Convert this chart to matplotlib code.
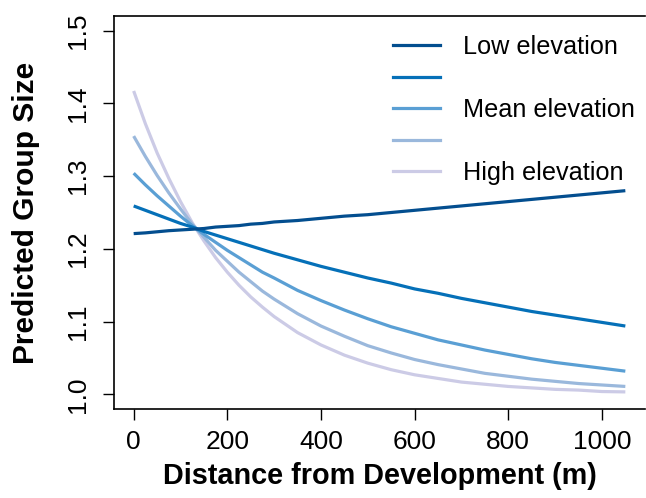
import matplotlib
matplotlib.use("Agg")
import matplotlib.pyplot as plt
from matplotlib.lines import Line2D

plt.rcParams['font.family'] = ['Liberation Sans', 'DejaVu Sans']

distance = [0, 25, 50, 75, 100, 125, 150, 175, 200, 225, 250, 275, 300,
            350, 400, 450, 500, 550, 600, 650, 700, 750, 800, 850, 900, 950, 1000, 1050]

low_elev = [1.221, 1.222, 1.2235, 1.225, 1.226, 1.227, 1.228, 1.230, 1.231, 1.232, 1.234, 1.235, 1.237,
            1.239, 1.242, 1.245, 1.247, 1.250, 1.253, 1.256, 1.259, 1.262, 1.265, 1.268, 1.271, 1.274, 1.277, 1.280]
lowmid_elev = [1.259, 1.253, 1.247, 1.241, 1.235, 1.230, 1.224, 1.219, 1.214, 1.209, 1.204, 1.199, 1.194,
               1.185, 1.176, 1.168, 1.160, 1.153, 1.145, 1.139, 1.132, 1.126, 1.120, 1.114, 1.109, 1.104, 1.099, 1.094]
mean_elev = [1.304, 1.288, 1.273, 1.259, 1.245, 1.232, 1.220, 1.209, 1.198, 1.188, 1.178, 1.168, 1.160,
             1.143, 1.129, 1.116, 1.104, 1.093, 1.084, 1.075, 1.068, 1.061, 1.055, 1.049, 1.044, 1.040, 1.036, 1.032]
highmid_elev = [1.355, 1.327, 1.301, 1.277, 1.255, 1.234, 1.216, 1.198, 1.183, 1.168, 1.155, 1.142, 1.131,
                1.111, 1.094, 1.080, 1.067, 1.057, 1.048, 1.041, 1.035, 1.029, 1.025, 1.021, 1.018, 1.015, 1.013, 1.011]
high_elev = [1.417, 1.372, 1.332, 1.297, 1.265, 1.236, 1.211, 1.188, 1.168, 1.150, 1.134, 1.120, 1.107,
             1.085, 1.068, 1.054, 1.043, 1.034, 1.027, 1.022, 1.017, 1.014, 1.011, 1.009, 1.007, 1.006, 1.004, 1.0035]

series = [low_elev, lowmid_elev, mean_elev, highmid_elev, high_elev]
legend_labels = ["Low elevation", " ", "Mean elevation", " ", "High elevation"]
colors = ['#034e8f', '#0570b8', '#5a9fd4', '#9ab8dc', '#cccbe6']

x_ticks = [0, 200, 400, 600, 800, 1000]
y_ticks = [1.0, 1.1, 1.2, 1.3, 1.4, 1.5]

W, H = 646, 498
fig = plt.figure(figsize=(W / 100, H / 100), dpi=100)
ax = fig.add_axes([114 / W, 1 - 409 / H, (645 - 114) / W, (409 - 16) / H])

# draw lightest first so the dark lines sit on top
for vals, col in reversed(list(zip(series, colors))):
    ax.plot(distance, vals, color=col, lw=2.3, solid_capstyle='butt')

ax.set_xlim(-42, 1092)
ax.set_ylim(0.98, 1.52)
ax.set_xticks(x_ticks)
ax.set_xticklabels([str(v) for v in x_ticks])
ax.set_yticks(y_ticks)
ax.set_yticklabels([f"{v:.1f}" for v in y_ticks], rotation=90, va='center')

ax.tick_params(axis='both', direction='out', length=8, width=1.0, labelsize=19, colors='black')
ax.tick_params(axis='x', pad=7)
ax.tick_params(axis='y', pad=9)
for s in ['left', 'bottom', 'top']:
    ax.spines[s].set_linewidth(1.2)
ax.spines['right'].set_visible(False)

ax.set_xlabel("Distance from Development (m)", fontsize=20.8, fontweight='bold', labelpad=6)
ax.set_ylabel("Predicted Group Size", fontsize=21.5, fontweight='bold', labelpad=19)

handles = [Line2D([], [], color=c, lw=2.3) for c in colors]
ax.legend(handles, legend_labels, loc='upper left', bbox_to_anchor=(0.525, 0.952),
          frameon=False, fontsize=18.2, borderpad=0, borderaxespad=0,
          handlelength=1.86, handletextpad=0.92, labelspacing=0.30)

fig.savefig("out.png", dpi=100)
